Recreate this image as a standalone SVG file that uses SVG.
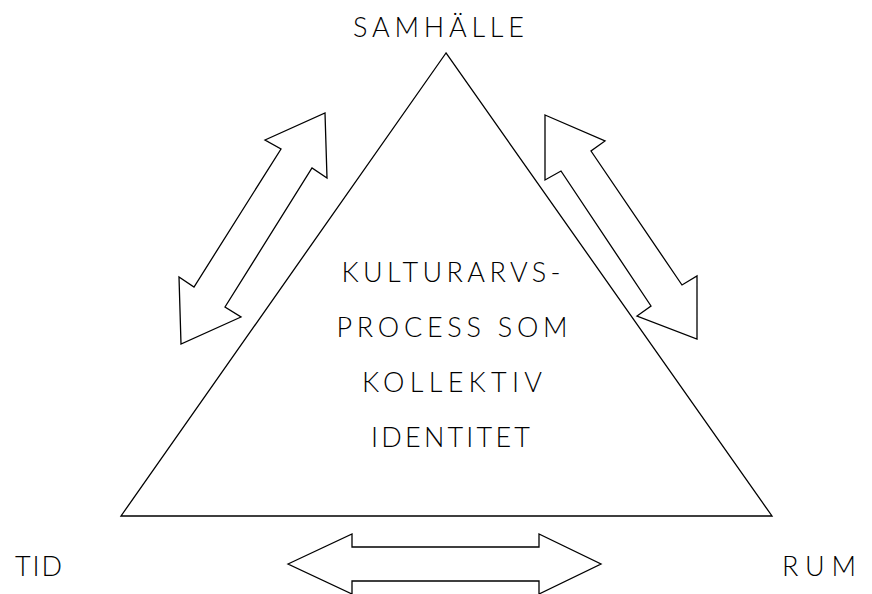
<svg xmlns="http://www.w3.org/2000/svg" width="872" height="594" viewBox="0 0 872 594">
<style>
.shape{fill:#fff;stroke:#000;stroke-width:1.3;stroke-linejoin:miter}
.t{font-family:Lato,"Open Sans","Liberation Sans",sans-serif;font-weight:300;font-size:27px;fill:#000}
.c{text-anchor:middle}
</style>
<rect width="872" height="594" fill="#fff"/>
<g id="triangle">
<polygon class="shape" points="446,53 121,516 772,516"/>
<text class="t c" x="451" y="282" textLength="219" lengthAdjust="spacing">KULTURARVS-</text>
<text class="t c" x="452" y="337" textLength="231" lengthAdjust="spacing">PROCESS SOM</text>
<text class="t c" x="452" y="392" textLength="180" lengthAdjust="spacing">KOLLEKTIV</text>
<text class="t c" x="450.5" y="447" textLength="159" lengthAdjust="spacing">IDENTITET</text>
</g>
<g id="samhalle"><text class="t" x="353" y="37" textLength="171" lengthAdjust="spacing">SAMHÄLLE</text></g>
<g id="tid"><text class="t" x="15" y="576" textLength="47" lengthAdjust="spacing">TID</text></g>
<g id="rum"><text class="t" x="782" y="576" textLength="74" lengthAdjust="spacing">RUM</text></g>
<g id="connectors">
<polygon class="shape" points="325,113 327,178 312,168 225,307 241,317 181,344 179,277 194,287 281,149 265,140"/>
<polygon class="shape" points="545,115 605,141 591,151 682,285 697,276 697,339 637,316 651,306 561,171 545,180"/>
<polygon class="shape" points="288,564 352,534 352,547 539,547 539,534 601,564 539,594 539,581 352,581 352,594"/>
</g>
</svg>
